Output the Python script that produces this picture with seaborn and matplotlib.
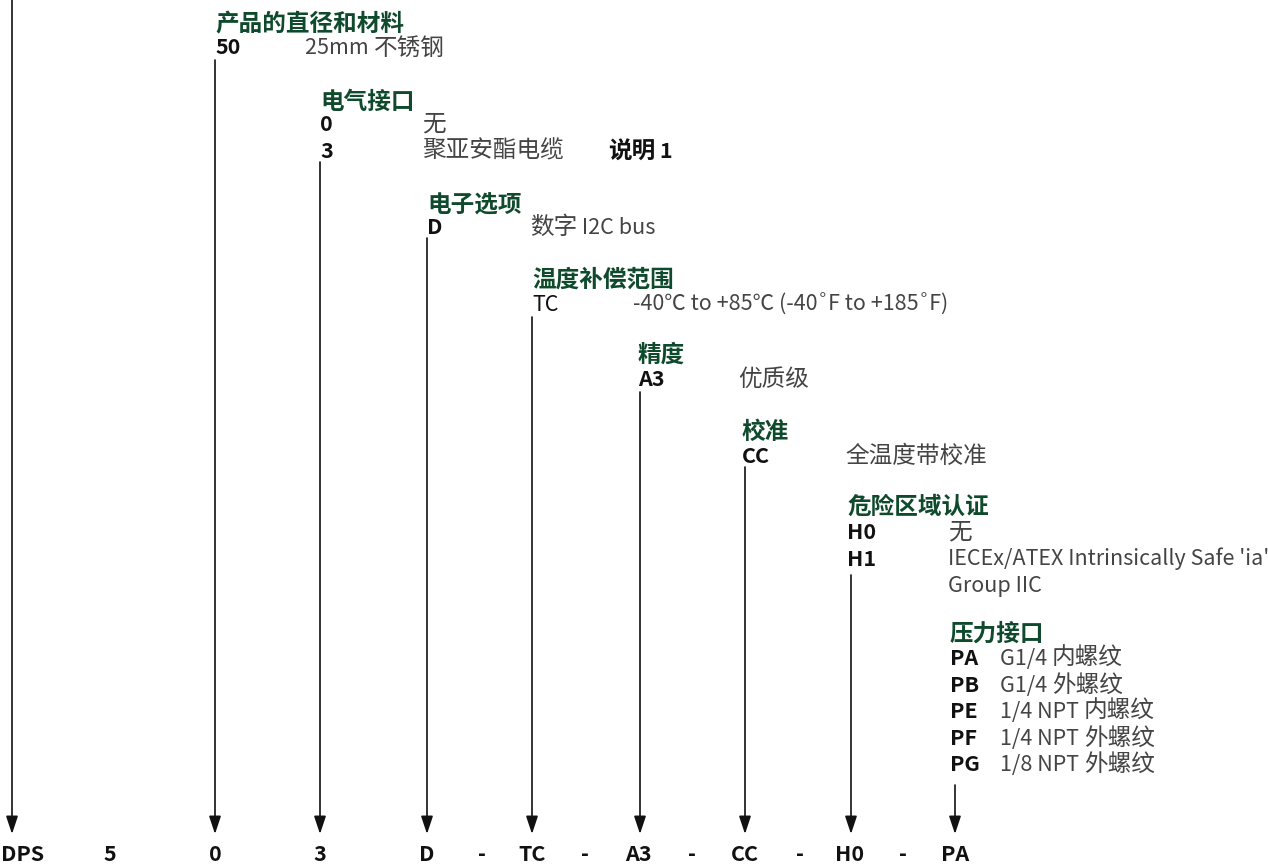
import matplotlib
matplotlib.use("Agg")
import matplotlib.pyplot as plt
import seaborn as sns

# ordering code shown along the bottom
order_codes = ["DPS", "5", "0", "3", "D", "-", "TC", "-", "A3", "-", "CC", "-", "H0", "-", "PA"]

# option groups: header, codes, descriptions
headers = ["产品的直径和材料", "电气接口", "电子选项", "温度补偿范围",
           "精度", "校准", "危险区域认证", "压力接口"]
option_codes = [
    ["50"],
    ["0", "3"],
    ["D"],
    ["TC"],
    ["A3"],
    ["CC"],
    ["H0", "H1", ""],
    ["PA", "PB", "PE", "PF", "PG"],
]
option_desc = [
    ["25mm 不锈钢"],
    ["无", "聚亚安酯电缆"],
    ["数字 I2C bus"],
    ["-40℃ to +85℃ (-40˚F to +185˚F)"],
    ["优质级"],
    ["全温度带校准"],
    ["无", "IECEx/ATEX Intrinsically Safe 'ia'", "Group IIC"],
    ["G1/4 内螺纹", "G1/4 外螺纹", "1/4 NPT 内螺纹", "1/4 NPT 外螺纹", "1/8 NPT 外螺纹"],
]
note_text = "说明 1"

# layout (pixels, y measured from the top)
code_x = [23, 110, 215, 320, 427, 482, 532, 585, 638, 692, 745, 800, 850, 903, 955]
sec_x = [215, 320, 427, 532, 638, 742, 847, 950]
sec_y = [22.5, 100, 203, 278, 353, 430, 505, 632]
first_dy = [24, 23, 23, 25, 25, 25, 26, 25]
desc_dx = [90, 102, 103, 101, 100, 103, 101, 50]
row_h = 26.6
arrow_x = [12, 215, 320, 427, 532, 640, 745, 851, 955]
arrow_top = [0, 60, 162, 238, 317, 392, 467, 575, 785]
arrow_tip = 834

sns.set_theme(style="white")
plt.rcParams["font.family"] = ["Noto Sans CJK SC", "DejaVu Sans"]

green = "#0f4a2c"
grey = "#444444"
fs_lat = 15.5
fs_cjk = 17

fig = plt.figure(figsize=(12.68, 8.68), dpi=100)
ax = fig.add_axes([0, 0, 1, 1])
ax.set_xlim(0, 1268)
ax.set_ylim(868, 0)
ax.axis("off")
renderer = fig.canvas.get_renderer()


def split_runs(s):
    runs = []
    for ch in s:
        cjk = ord(ch) >= 0x2E80
        if runs and runs[-1][1] == cjk:
            runs[-1][0] += ch
        else:
            runs.append([ch, cjk])
    return runs


def draw_text(x, y_center, s, color, weight="normal"):
    # CJK glyphs are drawn a bit larger than latin ones, as in the source sheet
    base = y_center + 7.9
    for run, cjk in split_runs(s):
        t = ax.text(x, base, run, color=color, fontweight=weight, va="baseline",
                    fontsize=fs_cjk if cjk else fs_lat)
        x = t.get_window_extent(renderer).x1


for i, h in enumerate(headers):
    x, y = sec_x[i], sec_y[i]
    ax.text(x, y + 9, h, color=green, fontsize=fs_cjk, fontweight="bold", va="baseline")
    for j, (c, d) in enumerate(zip(option_codes[i], option_desc[i])):
        yy = y + first_dy[i] + row_h * j
        weight = "normal" if c == "TC" else "bold"
        draw_text(x, yy, c, "#111111", weight)
        draw_text(x + desc_dx[i], yy, d, grey, "light")

# note next to polyurethane cable
draw_text(608, sec_y[1] + first_dy[1] + row_h, note_text, "#111111", "bold")

for x, top in zip(arrow_x, arrow_top):
    ax.annotate("", xy=(x, arrow_tip), xytext=(x, top),
                arrowprops=dict(arrowstyle="-|>,head_length=0.9,head_width=0.3",
                                color="#111111", lw=1.2, shrinkA=0, shrinkB=0))

for c, x in zip(order_codes, code_x):
    ax.text(x, 861, c, color="#111111", fontsize=fs_lat, fontweight="bold",
            ha="center", va="baseline")

fig.savefig("out.png", dpi=100)
